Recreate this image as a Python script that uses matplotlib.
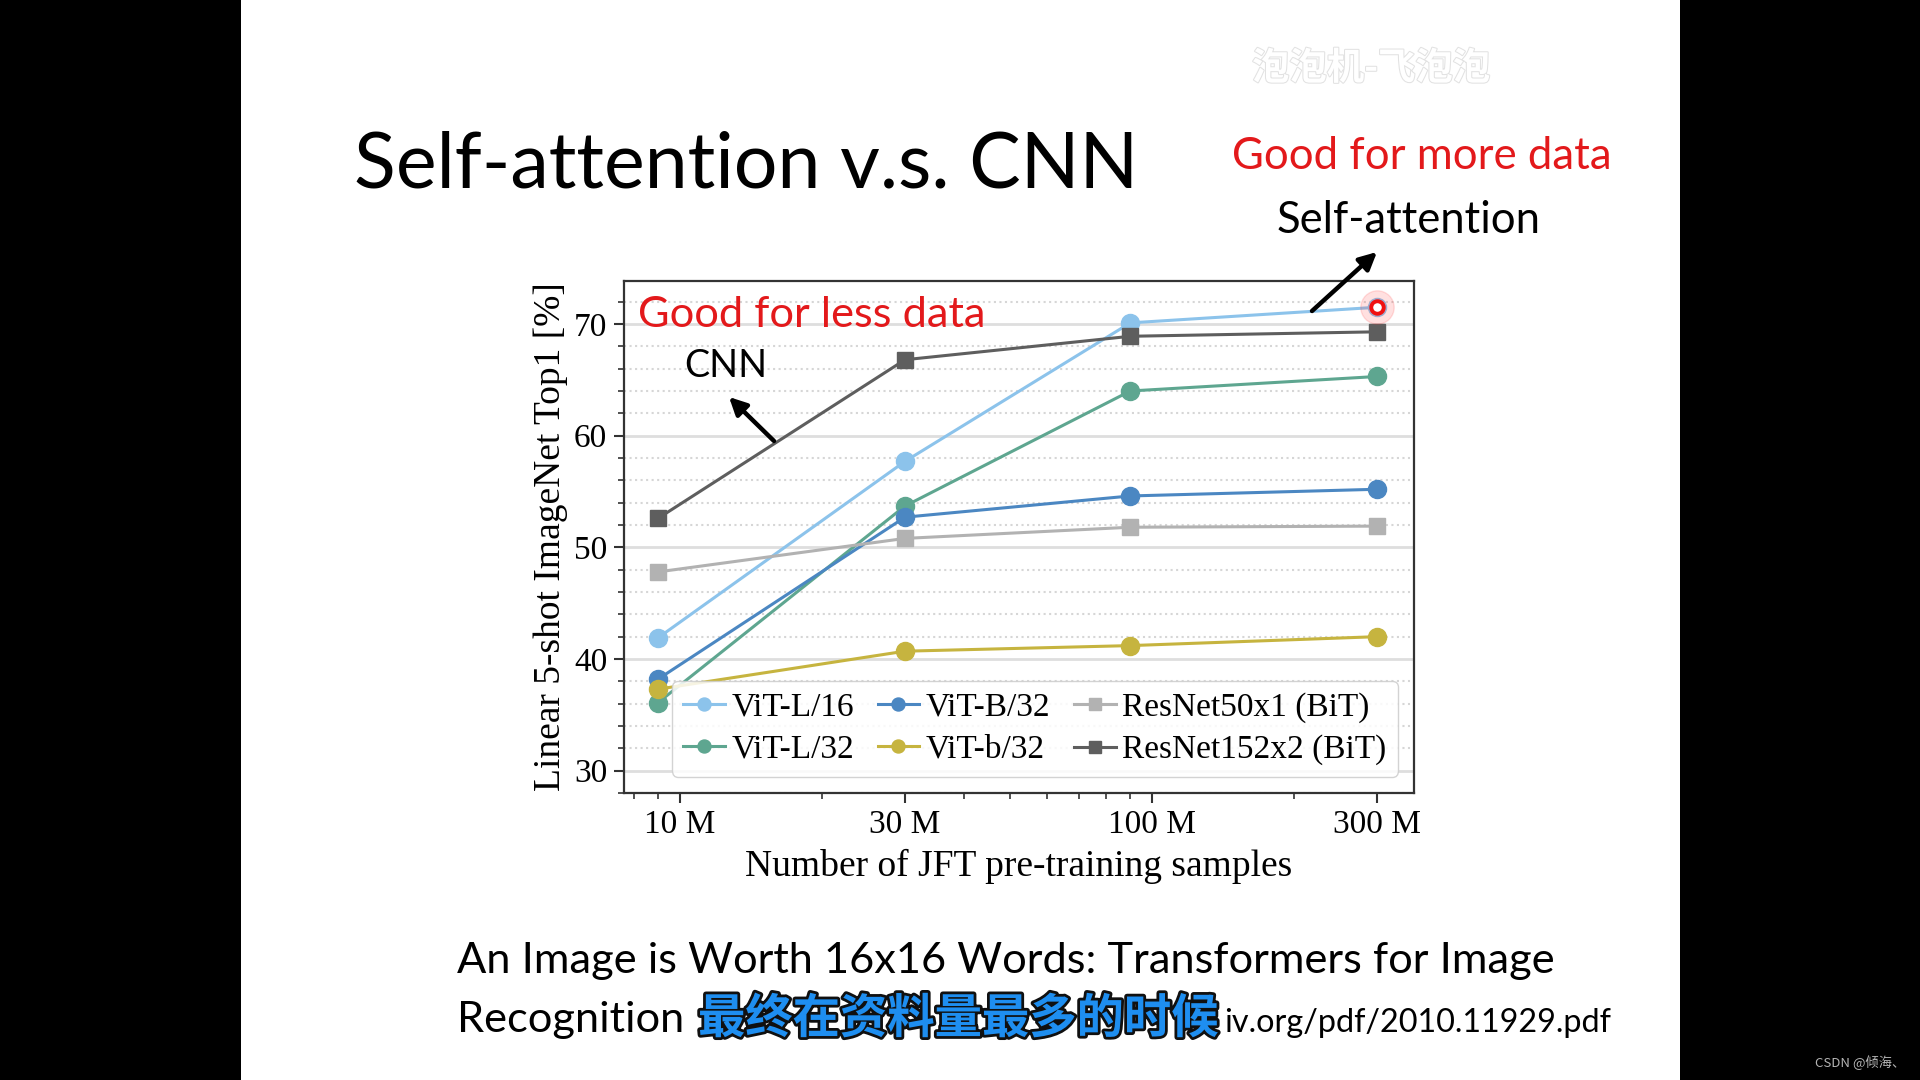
import matplotlib
matplotlib.use('Agg')
import matplotlib.pyplot as plt
import matplotlib.patheffects as pe
from matplotlib.patches import Rectangle
from matplotlib.ticker import MultipleLocator, NullFormatter, LogLocator

# JFT pre-training subset sizes (millions) and 5-shot ImageNet accuracy
samples = [9, 30, 90, 300]
vit_l16 = [41.9, 57.7, 70.1, 71.5]
vit_l32 = [36.1, 53.7, 64.0, 65.3]
vit_b32 = [38.2, 52.7, 54.6, 55.2]
vit_s32 = [37.3, 40.7, 41.2, 42.0]
r50x1 = [47.8, 50.8, 51.8, 51.9]
r152x2 = [52.6, 66.8, 68.9, 69.3]

labels = ['ViT-L/16', 'ViT-L/32', 'ViT-B/32', 'ViT-b/32', 'ResNet50x1 (BiT)', 'ResNet152x2 (BiT)']
colors = ['#8cc3eb', '#5ea690', '#4b87c2', '#c6b43f', '#b2b2b2', '#5e5e5e']
markers = ['o', 'o', 'o', 'o', 's', 's']
xticks = [10, 30, 100, 300]
xticklabels = ['10 M', '30 M', '100 M', '300 M']
yticks = [30, 40, 50, 60, 70]

plt.rcParams['font.family'] = 'Liberation Serif'
W, H = 1920, 1080
fig = plt.figure(figsize=(19.2, 10.8), dpi=100, facecolor='black')
fig.patches.append(Rectangle((241 / W, 0), (1680 - 241) / W, 1, transform=fig.transFigure,
                             facecolor='white', edgecolor='none', zorder=-5))

ax = fig.add_axes([624 / W, 1 - 793 / H, (1414 - 624) / W, (793 - 281) / H])
series = [vit_l16, vit_l32, vit_b32, vit_s32, r50x1, r152x2]
for vals, lab, c, m in zip(series, labels, colors, markers):
    ax.plot(samples, vals, marker=m, color=c, lw=2.2, ms=13 if m == 'o' else 12, label=lab)

ax.set_xscale('log')
ax.set_xlim(7.62, 359)
ax.set_ylim(28.0, 73.85)
ax.set_xticks(xticks)
ax.set_xticklabels(xticklabels)
ax.xaxis.set_minor_locator(LogLocator(subs=range(2, 10)))
ax.xaxis.set_minor_formatter(NullFormatter())
ax.set_yticks(yticks)
ax.yaxis.set_minor_locator(MultipleLocator(2))
ax.grid(which='major', axis='y', color='#dedede', lw=2, ls='-')
ax.grid(which='minor', axis='y', color='#d6d6d6', lw=1.5, ls=':')
ax.set_axisbelow(True)
for s in ax.spines.values():
    s.set_color('#333333')
    s.set_linewidth(1.6)
ax.tick_params(which='major', direction='out', length=7, width=1.5, color='#333333',
               labelsize=24, pad=5)
ax.tick_params(which='minor', direction='out', length=4, width=1.2, color='#333333')

ax.set_xlabel('Number of JFT pre-training samples', fontsize=27)
ax.xaxis.set_label_coords(0.5, (793 - 849) / 512)
ax.set_ylabel('Linear 5-shot ImageNet Top1 [%]', fontsize=27)
ax.yaxis.set_label_coords((568 - 624) / 790, 0.5)

ax.legend(ncol=3, loc='lower right', bbox_to_anchor=(0.98, 0.031), borderaxespad=0,
          fontsize=24, handlelength=1.25, handletextpad=0.2, columnspacing=0.7,
          labelspacing=0.35, borderpad=0.35, markerscale=0.72, edgecolor='#cccccc',
          framealpha=0.85, fancybox=True)

# laser pointer dot on the last ViT-L/16 point
ax.plot(samples[-1], vit_l16[-1], 'o', ms=24, color='#ff3030', alpha=0.15, zorder=5)
ax.plot(samples[-1], vit_l16[-1], 'o', ms=9, mfc='white', mec='#f01010', mew=2.8, zorder=6)

r = fig.canvas.get_renderer()


def fit(s, x0, x1, ybase, color='black', family='Lato', weight='normal', va='baseline',
        ha='left', size=None):
    xa = x0 if ha == 'left' else x1
    t = fig.text(xa / W, 1 - ybase / H, s, ha=ha, va=va, fontsize=40, color=color,
                 family=family, weight=weight)
    if size:
        t.set_fontsize(size)
    else:
        w = t.get_window_extent(renderer=r).width
        t.set_fontsize(40 * (x1 - x0) / w)
    return t


red = '#e3191b'
fit('Self-attention v.s. CNN', 354, 1139, 187)
fit('Good for more data', 1232, 1611, 169, color=red)
fit('Self-attention', 1277, 1541, 233)
fit('Good for less data', 638, 986, 327, color=red)
fit('CNN', 684, 767, 377)
l1 = fit('An Image is Worth 16x16 Words: Transformers for Image', 457, 1554, 973)
# second line: the middle is hidden behind the video subtitle
fit('Recognition', 457, 688, 1032, size=l1.get_fontsize())
fit('iv.org/pdf/2010.11929.pdf', 1224, 1611, 1032)

arrow = dict(arrowstyle='-|>', lw=3.2, color='black', mutation_scale=26, shrinkA=0, shrinkB=0)
ax.annotate('', xy=(729, H - 397), xytext=(774, H - 441), xycoords='figure pixels',
            textcoords='figure pixels', arrowprops=arrow, annotation_clip=False)
ax.annotate('', xy=(1377, H - 252), xytext=(1312, H - 311), xycoords='figure pixels',
            textcoords='figure pixels', arrowprops=arrow, annotation_clip=False)

# video overlays
cjk = ['Noto Sans CJK SC', 'DejaVu Sans']
wm = fit('泡泡机-飞泡泡', 1252, 1490, 68, color='white', family=cjk, weight='bold', va='center')
wm.set_path_effects([pe.Stroke(linewidth=1.5, foreground='#e2e2e2'), pe.Normal()])
sub = fit('最终在资料量最多的时候', 698, 1218, 1019, color='#1e8ef0', family=cjk,
          weight='bold', va='center')
sub.set_path_effects([pe.Stroke(linewidth=4, foreground='#101010'), pe.Normal()])
fig.text(1815 / W, 1 - 1067 / H, 'CSDN @倾海、', fontsize=9.5, color='#b4b4b4',
         family=cjk, ha='left', va='baseline')

fig.savefig('out.png', dpi=100, facecolor='black')
